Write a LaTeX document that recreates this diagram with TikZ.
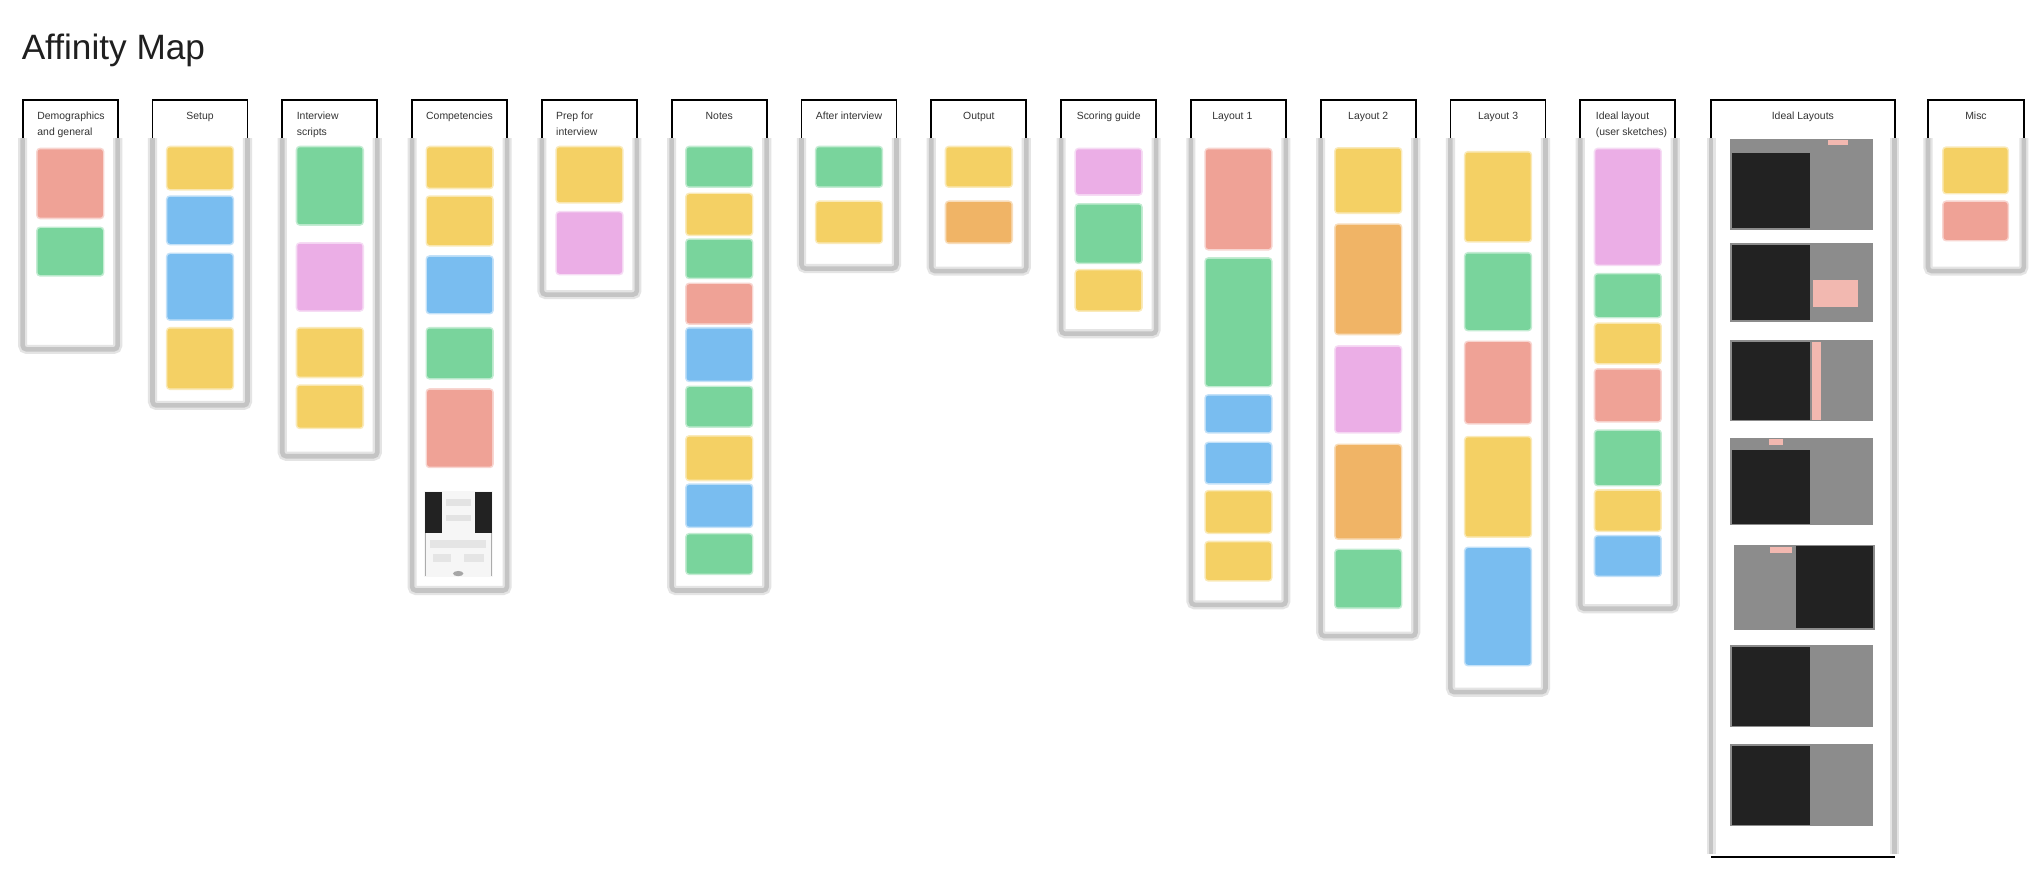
\documentclass[tikz,border=0pt]{standalone}
\usepackage{fontspec}
\setmainfont{Liberation Sans}
\definecolor{sY}{HTML}{F4D064}
\definecolor{sG}{HTML}{79D49C}
\definecolor{sB}{HTML}{79BDF0}
\definecolor{sR}{HTML}{EFA296}
\definecolor{sP}{HTML}{EBAEE6}
\definecolor{sO}{HTML}{F0B466}
\definecolor{dk}{HTML}{222222}
\definecolor{imgray}{HTML}{8C8C8C}
\definecolor{pinktab}{HTML}{F2B8B0}
\definecolor{bandhalo}{HTML}{E4E4E4}
\definecolor{band}{HTML}{C4C4C4}
\definecolor{hdrtext}{HTML}{333333}
\tikzset{
  hdrline/.style={draw=black, line width=1.4pt},
  halo/.style={draw=bandhalo, line width=7pt, rounded corners=3pt},
  bandline/.style={draw=band, line width=3.5pt, rounded corners=3pt},
  htxt/.style={font=\fontsize{8}{12}\selectfont, text=hdrtext, inner sep=0pt, align=left},
  ttl/.style={font=\fontsize{27}{32}\selectfont, text=black!88, inner sep=0pt},
}
\newcommand\stk[4]{%
  \pgfmathsetmacro\sx{17.4+99.57*#1+11.5}%
  \fill[#4!45!white, rounded corners=3pt] (\sx-1.2,#2-1.2) rectangle (\sx+51.2,#3+1.2);
  \fill[#4, rounded corners=2pt] (\sx,#2) rectangle (\sx+50,#3);
}
\newcommand\colframe[2]{%
  \pgfmathsetmacro\colLft{17.4+99.57*#1}%
  \pgfmathsetmacro\colRgt{\colLft+72.9}%
  \draw[halo] (\colLft,106) -- (\colLft,#2) -- (\colRgt,#2) -- (\colRgt,106);
  \draw[bandline] (\colLft,106) -- (\colLft,#2) -- (\colRgt,#2) -- (\colRgt,106);
  \draw[hdrline] (\colLft,106) -- (\colLft,76.7) -- (\colRgt,76.7) -- (\colRgt,106);
}
\begin{document}
\begin{tikzpicture}[x=1pt,y=-1pt]
\useasboundingbox (0,0) rectangle (1568,677);
\fill[white] (0,0) rectangle (1568,677);

\node[ttl, anchor=base west] (title) at (16.5,46) {Affinity Map};

% column frames
\colframe{0}{268}
\colframe{1}{311}
\colframe{2}{350}
\colframe{3}{453}
\colframe{4}{226}
\colframe{5}{453}
\colframe{6}{206}
\colframe{7}{208}
\colframe{8}{256}
\colframe{9}{464}
\colframe{10}{488}
\colframe{11}{531}
\colframe{12}{467}

% Misc frame
\draw[halo] (1479,106) -- (1479,208) -- (1552.5,208) -- (1552.5,106);
\draw[bandline] (1479,106) -- (1479,208) -- (1552.5,208) -- (1552.5,106);
\draw[hdrline] (1479,106) -- (1479,76.7) -- (1552.5,76.7) -- (1552.5,106);

% Ideal Layouts frame
\draw[halo, rounded corners=0pt] (1312.6,106) -- (1312.6,655);
\draw[halo, rounded corners=0pt] (1453.5,106) -- (1453.5,655);
\draw[bandline, rounded corners=0pt] (1312.6,106) -- (1312.6,655);
\draw[bandline, rounded corners=0pt] (1453.5,106) -- (1453.5,655);
\draw[hdrline] (1312.6,106) -- (1312.6,76.7) -- (1453.5,76.7) -- (1453.5,106);
\draw[black, line width=1.2pt] (1312.6,657.5) -- (1453.5,657.5);

% headers
\node[htxt, anchor=base west] (h0) at (28.5,104) {Demographics\\and general};
\node[htxt, anchor=base] (h1) at (153.5,92) {Setup};
\node[htxt, anchor=base west] (h2) at (227.5,104) {Interview\\scripts};
\node[htxt, anchor=base] (h3) at (352.5,92) {Competencies};
\node[htxt, anchor=base west] (h4) at (426.5,104) {Prep for\\interview};
\node[htxt, anchor=base] (h5) at (551.8,92) {Notes};
\node[htxt, anchor=base] (h6) at (651.3,92) {After interview};
\node[htxt, anchor=base] (h7) at (750.9,92) {Output};
\node[htxt, anchor=base] (h8) at (850.5,92) {Scoring guide};
\node[htxt, anchor=base west] (h9) at (929.8,92) {Layout 1};
\node[htxt, anchor=base] (h10) at (1049.6,92) {Layout 2};
\node[htxt, anchor=base] (h11) at (1149.2,92) {Layout 3};
\node[htxt, anchor=base west] (h12) at (1224,104) {Ideal layout\\(user sketches)};
\node[htxt, anchor=base] (h13) at (1383,92) {Ideal Layouts};
\node[htxt, anchor=base] (h14) at (1515.8,92) {Misc};

% stickies
\stk{0}{114.5}{167}{sR}
\stk{0}{175}{211}{sG}

\stk{1}{113}{145}{sY}
\stk{1}{151}{187}{sB}
\stk{1}{195}{245}{sB}
\stk{1}{252}{298}{sY}

\stk{2}{113}{172}{sG}
\stk{2}{187}{238}{sP}
\stk{2}{252}{289}{sY}
\stk{2}{296}{328}{sY}

\stk{3}{113}{144}{sY}
\stk{3}{151}{188}{sY}
\stk{3}{197}{240}{sB}
\stk{3}{252}{290}{sG}
\stk{3}{299}{358}{sR}

\stk{4}{113}{155}{sY}
\stk{4}{163}{210}{sP}

\stk{5}{113}{143}{sG}
\stk{5}{149}{180}{sY}
\stk{5}{184}{213}{sG}
\stk{5}{218}{248}{sR}
\stk{5}{252}{292}{sB}
\stk{5}{297}{327}{sG}
\stk{5}{335}{368}{sY}
\stk{5}{372}{404}{sB}
\stk{5}{410}{440}{sG}

\stk{6}{113}{143}{sG}
\stk{6}{155}{186}{sY}

\stk{7}{113}{143}{sY}
\stk{7}{155}{186}{sO}

\stk{8}{114.5}{149}{sP}
\stk{8}{157}{201.5}{sG}
\stk{8}{207.5}{238}{sY}

\stk{9}{114.5}{191}{sR}
\stk{9}{198.5}{296}{sG}
\stk{9}{303.5}{331.5}{sB}
\stk{9}{340}{370.5}{sB}
\stk{9}{377}{408.5}{sY}
\stk{9}{416}{445}{sY}

\stk{10}{114}{163}{sY}
\stk{10}{172.5}{256}{sO}
\stk{10}{266}{331.5}{sP}
\stk{10}{341.5}{413}{sO}
\stk{10}{422}{466}{sG}

\stk{11}{117}{185}{sY}
\stk{11}{194.5}{253}{sG}
\stk{11}{262.5}{324.5}{sR}
\stk{11}{335.5}{411.5}{sY}
\stk{11}{420.5}{510}{sB}

\stk{12}{114.5}{203}{sP}
\stk{12}{210.5}{243}{sG}
\stk{12}{248.5}{278.5}{sY}
\stk{12}{283.5}{323}{sR}
\stk{12}{330.5}{372}{sG}
\stk{12}{376.5}{407}{sY}
\stk{12}{411.5}{441.5}{sB}

% Misc stickies
\fill[sY!45!white, rounded corners=3pt] (1489.8,112.3) rectangle (1541.2,149.2);
\fill[sY, rounded corners=2pt] (1491,113.5) rectangle (1540,148);
\fill[sR!45!white, rounded corners=3pt] (1489.8,153.8) rectangle (1541.2,185.2);
\fill[sR, rounded corners=2pt] (1491,155) rectangle (1540,184);

% Competencies sketch
\fill[gray!7] (325,377) rectangle (378,443);
\fill[dk] (326,377.5) rectangle (339,409);
\fill[dk] (364.5,377.5) rectangle (377.5,409);
\fill[gray!22] (342,383) rectangle (361,388);
\fill[gray!22] (342,395) rectangle (361,400);
\draw[gray!65, line width=1pt] (326.5,409) -- (326.5,442);
\draw[gray!65, line width=1pt] (377,409) -- (377,442);
\fill[gray!20] (330,414) rectangle (373,420);
\fill[gray!20] (332,425) rectangle (346,431);
\fill[gray!20] (356,425) rectangle (371,431);
\fill[gray!70] (351.5,440) ellipse (4 and 2);

% Ideal Layouts screenshots
\fill[imgray] (1327,106.6) rectangle (1437,176.4);
\fill[dk] (1329,117.4) rectangle (1388.5,175);
\fill[pinktab] (1402,107.4) rectangle (1418,111.2);

\fill[imgray] (1327,186.4) rectangle (1437,247);
\fill[dk] (1329,188) rectangle (1388.5,245.5);
\fill[pinktab] (1391,214.8) rectangle (1425,235.5);

\fill[imgray] (1327,261) rectangle (1437,323);
\fill[dk] (1329,262) rectangle (1388.5,322);
\fill[pinktab] (1390,262) rectangle (1397,322);

\fill[imgray] (1327,336) rectangle (1437,403);
\fill[dk] (1329,345) rectangle (1388.5,402);
\fill[pinktab] (1357,336.5) rectangle (1368,341);

\fill[imgray] (1330,418) rectangle (1438,483);
\fill[dk] (1378,419) rectangle (1437,482);
\fill[pinktab] (1358,419.5) rectangle (1375,424);

\fill[imgray] (1327,495) rectangle (1437,558);
\fill[dk] (1329,496) rectangle (1388.5,557);

\fill[imgray] (1327,571) rectangle (1437,634);
\fill[dk] (1329,572) rectangle (1388.5,633);
\end{tikzpicture}
\end{document}
